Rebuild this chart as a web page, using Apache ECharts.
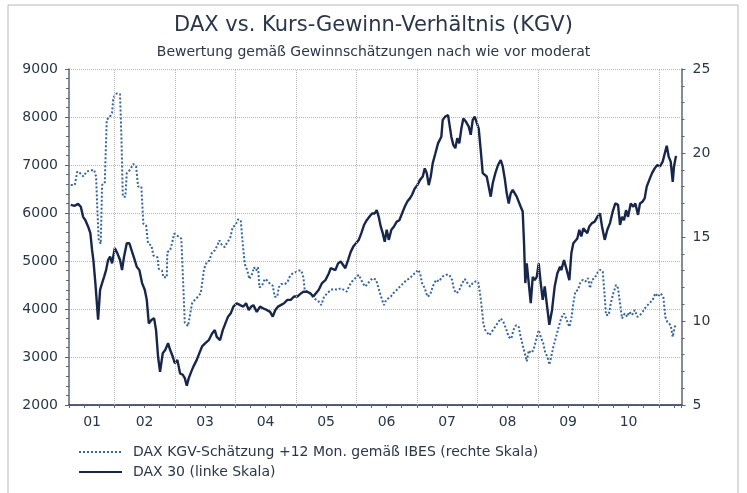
<!DOCTYPE html>
<html>
<head>
<meta charset="utf-8">
<title>DAX vs. KGV</title>
<script src="https://cdn.jsdelivr.net/npm/echarts@6/dist/echarts.min.js"></script>
<style>
  html, body { margin: 0; padding: 0; background: #fff; }
  #chart { width: 747px; height: 493px; }
</style>
</head>
<body>
<div id="chart"></div>
<script>
// DAX 30, weekly-ish readings (decimal year / index points)
const daxTime = [
  2001.279, 2001.345, 2001.400, 2001.445, 2001.483, 2001.521, 2001.565, 2001.603, 2001.631, 2001.653,
  2001.686, 2001.731, 2001.764, 2001.797, 2001.830, 2001.863, 2001.896, 2001.929, 2001.962, 2002.007,
  2002.050, 2002.094, 2002.127, 2002.160, 2002.205, 2002.248, 2002.293, 2002.337, 2002.370, 2002.413,
  2002.458, 2002.502, 2002.536, 2002.569, 2002.612, 2002.656, 2002.689, 2002.722, 2002.755, 2002.800,
  2002.843, 2002.888, 2002.921, 2002.965, 2002.998, 2003.041, 2003.086, 2003.131, 2003.164, 2003.197,
  2003.230, 2003.273, 2003.306, 2003.362, 2003.405, 2003.450, 2003.504, 2003.560, 2003.615, 2003.660,
  2003.693, 2003.747, 2003.792, 2003.835, 2003.879, 2003.924, 2003.967, 2004.023, 2004.078, 2004.132,
  2004.177, 2004.221, 2004.264, 2004.298, 2004.354, 2004.408, 2004.463, 2004.519, 2004.574, 2004.618,
  2004.661, 2004.706, 2004.750, 2004.805, 2004.860, 2004.916, 2004.970, 2005.025, 2005.069, 2005.124,
  2005.180, 2005.235, 2005.289, 2005.322, 2005.379, 2005.433, 2005.488, 2005.544, 2005.577, 2005.610,
  2005.653, 2005.698, 2005.742, 2005.775, 2005.818, 2005.863, 2005.907, 2005.950, 2005.995, 2006.040,
  2006.083, 2006.127, 2006.172, 2006.215, 2006.260, 2006.304, 2006.337, 2006.370, 2006.403, 2006.436,
  2006.469, 2006.502, 2006.536, 2006.579, 2006.623, 2006.668, 2006.711, 2006.755, 2006.800, 2006.843,
  2006.888, 2006.921, 2006.965, 2007.008, 2007.053, 2007.098, 2007.131, 2007.164, 2007.197, 2007.230,
  2007.263, 2007.306, 2007.350, 2007.405, 2007.428, 2007.471, 2007.516, 2007.549, 2007.570, 2007.603,
  2007.636, 2007.669, 2007.702, 2007.736, 2007.769, 2007.813, 2007.858, 2007.891, 2007.924, 2007.957,
  2007.990, 2008.023, 2008.056, 2008.089, 2008.122, 2008.155, 2008.188, 2008.221, 2008.255, 2008.298,
  2008.342, 2008.387, 2008.420, 2008.453, 2008.486, 2008.519, 2008.552, 2008.585, 2008.618, 2008.651,
  2008.684, 2008.717, 2008.750, 2008.772, 2008.793, 2008.817, 2008.850, 2008.883, 2008.916, 2008.949,
  2008.982, 2009.015, 2009.048, 2009.081, 2009.114, 2009.147, 2009.190, 2009.235, 2009.279, 2009.322,
  2009.367, 2009.388, 2009.433, 2009.478, 2009.521, 2009.554, 2009.587, 2009.620, 2009.653, 2009.686,
  2009.719, 2009.752, 2009.785, 2009.818, 2009.851, 2009.896, 2009.940, 2009.983, 2010.028, 2010.061,
  2010.106, 2010.149, 2010.193, 2010.238, 2010.281, 2010.326, 2010.359, 2010.392, 2010.425, 2010.458,
  2010.491, 2010.536, 2010.579, 2010.612, 2010.656, 2010.689, 2010.734, 2010.767, 2010.800, 2010.843,
  2010.888, 2010.932, 2010.975, 2011.020, 2011.064, 2011.098, 2011.131, 2011.164, 2011.197, 2011.230,
  2011.251, 2011.284
]
const daxValues = [
  6170, 6150, 6190, 6130, 5920, 5850, 5720, 5580, 5230, 5020,
  4540, 3780, 4400, 4540, 4670, 4810, 5020, 5090, 4950, 5270,
  5160, 5020, 4810, 5090, 5370, 5370, 5190, 5020, 4880, 4810,
  4540, 4400, 4190, 3700, 3770, 3810, 3560, 3010, 2690, 3080,
  3150, 3290, 3150, 3010, 2870, 2940, 2660, 2630, 2560, 2400,
  2560, 2700, 2800, 2940, 3080, 3220, 3290, 3350, 3490, 3560,
  3420, 3350, 3560, 3700, 3840, 3910, 4050, 4120, 4080, 4050,
  4120, 3980, 4050, 4080, 3940, 4050, 4010, 3980, 3940, 3840,
  3980, 4050, 4080, 4120, 4190, 4190, 4260, 4260, 4310, 4360,
  4360, 4330, 4260, 4220, 4400, 4540, 4600, 4740, 4850, 4880,
  4810, 4950, 4990, 4950, 4850, 5020, 5190, 5300, 5370, 5440,
  5580, 5750, 5850, 5920, 5990, 5990, 6060, 5920, 5720, 5580,
  5400, 5650, 5440, 5650, 5720, 5820, 5850, 5990, 6130, 6240,
  6310, 6380, 6510, 6580, 6690, 6760, 6930, 6830, 6580, 6760,
  7040, 7240, 7450, 7590, 7940, 8010, 8040, 8080, 7590, 7420,
  7350, 7560, 7450, 7760, 7970, 7900, 7800, 7630, 7940, 8010,
  8040, 7760, 7310, 6830, 6790, 6760, 6550, 6340, 6620, 6830,
  7000, 7100, 6970, 6720, 6410, 6200, 6410, 6480, 6510, 6340,
  6380, 6130, 6030, 5370, 4540, 4950, 4540, 4120, 4670, 4600,
  4670, 4950, 4540, 4190, 4470, 4120, 3670, 3980, 4470, 4740,
  4880, 4810, 5020, 4810, 4600, 5160, 5370, 5330, 5470, 5650,
  5510, 5680, 5720, 5580, 5720, 5790, 5820, 5920, 5990, 5720,
  5440, 5650, 5790, 6030, 6200, 6170, 5750, 5920, 5850, 6060,
  5920, 6200, 6130, 6200, 5960, 6200, 6240, 6310, 6550, 6690,
  6830, 6930, 7000, 6970, 7070, 7240, 7400, 7170, 7070, 6650,
  6970, 7190
]

// DAX KGV-Schätzung +12 Mon. (IBES)
const kgvTime = [
  2001.279, 2001.345, 2001.388, 2001.433, 2001.488, 2001.544, 2001.598, 2001.664, 2001.698, 2001.719,
  2001.742, 2001.775, 2001.797, 2001.841, 2001.874, 2001.917, 2001.962, 2001.983, 2002.040, 2002.094,
  2002.116, 2002.139, 2002.182, 2002.205, 2002.260, 2002.314, 2002.359, 2002.392, 2002.446, 2002.479,
  2002.524, 2002.557, 2002.612, 2002.645, 2002.711, 2002.734, 2002.788, 2002.810, 2002.866, 2002.876,
  2002.921, 2002.965, 2002.987, 2003.031, 2003.107, 2003.140, 2003.164, 2003.218, 2003.251, 2003.284,
  2003.329, 2003.383, 2003.428, 2003.461, 2003.483, 2003.527, 2003.570, 2003.615, 2003.660, 2003.702,
  2003.736, 2003.780, 2003.825, 2003.868, 2003.912, 2003.957, 2004.000, 2004.045, 2004.089, 2004.122,
  2004.155, 2004.198, 2004.231, 2004.276, 2004.309, 2004.342, 2004.375, 2004.397, 2004.441, 2004.486,
  2004.529, 2004.574, 2004.618, 2004.651, 2004.694, 2004.717, 2004.760, 2004.817, 2004.860, 2004.893,
  2004.937, 2004.992, 2005.048, 2005.091, 2005.124, 2005.147, 2005.190, 2005.235, 2005.279, 2005.322,
  2005.379, 2005.421, 2005.466, 2005.521, 2005.577, 2005.631, 2005.686, 2005.742, 2005.797, 2005.841,
  2005.884, 2005.929, 2005.983, 2006.040, 2006.073, 2006.106, 2006.149, 2006.193, 2006.238, 2006.281,
  2006.326, 2006.359, 2006.392, 2006.425, 2006.458, 2006.491, 2006.524, 2006.569, 2006.612, 2006.668,
  2006.722, 2006.777, 2006.833, 2006.888, 2006.932, 2006.975, 2007.020, 2007.053, 2007.086, 2007.131,
  2007.174, 2007.218, 2007.263, 2007.317, 2007.362, 2007.428, 2007.483, 2007.537, 2007.582, 2007.615,
  2007.660, 2007.702, 2007.750, 2007.793, 2007.836, 2007.881, 2007.924, 2007.967, 2008.012, 2008.045,
  2008.078, 2008.099, 2008.132, 2008.165, 2008.198, 2008.231, 2008.276, 2008.331, 2008.387, 2008.430,
  2008.474, 2008.519, 2008.562, 2008.595, 2008.640, 2008.684, 2008.717, 2008.750, 2008.783, 2008.817,
  2008.850, 2008.883, 2008.926, 2008.970, 2009.015, 2009.048, 2009.091, 2009.124, 2009.157, 2009.190,
  2009.223, 2009.256, 2009.301, 2009.345, 2009.388, 2009.433, 2009.478, 2009.521, 2009.554, 2009.587,
  2009.620, 2009.664, 2009.698, 2009.742, 2009.785, 2009.830, 2009.863, 2009.896, 2009.940, 2009.983,
  2010.028, 2010.073, 2010.106, 2010.127, 2010.172, 2010.205, 2010.248, 2010.293, 2010.326, 2010.359,
  2010.392, 2010.436, 2010.479, 2010.512, 2010.557, 2010.602, 2010.645, 2010.689, 2010.734, 2010.789,
  2010.843, 2010.899, 2010.942, 2010.987, 2011.031, 2011.074, 2011.107, 2011.140, 2011.197, 2011.230,
  2011.263, 2011.284
]
const kgvValues = [
  18.1, 18.1, 18.9, 18.8, 18.6, 18.9, 18.95, 19.0, 18.6, 16.6,
  14.8, 14.6, 18.1, 18.2, 22.0, 22.1, 22.4, 23.3, 23.55, 23.5,
  21.0, 17.4, 17.4, 18.8, 19.0, 19.35, 19.2, 18.0, 18.0, 15.8,
  15.7, 14.6, 14.5, 13.9, 13.8, 13.1, 13.0, 12.6, 12.6, 14.1,
  14.2, 14.8, 15.2, 15.1, 14.9, 14.8, 9.9, 9.7, 9.6, 11.05,
  11.25, 11.45, 11.65, 11.75, 13.1, 13.5, 13.6, 14.1, 14.2, 14.5,
  14.8, 14.5, 14.4, 14.7, 14.9, 15.6, 15.7, 16.05, 16.0, 14.6,
  13.4, 13.0, 12.5, 12.8, 13.2, 13.0, 13.2, 12.0, 12.1, 12.5,
  12.4, 12.2, 12.1, 11.45, 11.45, 12.0, 12.2, 12.2, 12.3, 12.6,
  12.8, 12.9, 13.0, 13.0, 12.6, 11.85, 11.75, 11.65, 11.45, 11.3,
  11.15, 10.95, 11.45, 11.65, 11.85, 11.9, 11.85, 11.95, 11.85, 11.75,
  12.1, 12.35, 12.55, 12.75, 12.85, 12.25, 12.05, 12.25, 12.45, 12.55,
  12.45, 12.05, 11.65, 11.25, 10.95, 11.25, 11.15, 11.45, 11.65, 11.85,
  12.05, 12.25, 12.45, 12.55, 12.75, 12.85, 13.05, 12.85, 12.25, 11.95,
  11.45, 11.55, 12.05, 12.45, 12.35, 12.65, 12.75, 12.75, 12.45, 11.85,
  11.65, 11.85, 12.25, 12.5, 12.25, 12.05, 12.25, 12.35, 12.35, 11.65,
  10.65, 9.85, 9.45, 9.55, 9.15, 9.25, 9.55, 9.85, 10.15, 9.95,
  9.55, 9.05, 8.95, 9.45, 9.75, 9.65, 9.05, 8.55, 8.1, 7.6,
  8.25, 8.1, 8.25, 8.85, 9.45, 9.05, 8.65, 8.1, 7.9, 7.4,
  7.9, 8.45, 9.05, 9.65, 10.2, 10.45, 10.05, 9.65, 10.15, 11.05,
  11.75, 11.85, 12.25, 12.45, 12.35, 12.55, 11.95, 12.45, 12.55, 12.85,
  13.05, 12.95, 11.45, 10.35, 10.35, 11.05, 11.65, 12.15, 11.95, 11.05,
  10.15, 10.45, 10.25, 10.55, 10.35, 10.65, 10.25, 10.35, 10.55, 10.85,
  11.05, 11.25, 11.65, 11.45, 11.65, 11.45, 10.25, 9.95, 9.75, 9.05,
  9.65, 9.75
]

const yearBounds = [2002, 2003, 2004, 2005, 2006, 2007, 2008, 2009, 2010, 2011]
const yearLabels = ['01', '02', '03', '04', '05', '06', '07', '08', '09', '10']

const chart = echarts.init(document.getElementById('chart'))
const font = '"DejaVu Sans", "Noto Sans", sans-serif'
const ink = '#2b3649'
const axisColor = '#5b6677'
const gridStyle = { type: 'dotted', color: '#b5b5b5', width: 1 }

function pairs(xs, ys) {
  return xs.map((x, i) => [x, ys[i]])
}

chart.setOption({
  animation: false,
  textStyle: { fontFamily: font },
  title: {
    text: 'DAX vs. Kurs-Gewinn-Verhältnis (KGV)',
    subtext: 'Bewertung gemäß Gewinnschätzungen nach wie vor moderat',
    left: 'center',
    top: 10,
    itemGap: 9,
    textStyle: { fontSize: 21, fontWeight: 'normal', color: ink, fontFamily: font },
    subtextStyle: { fontSize: 14, color: ink, fontFamily: font }
  },
  graphic: [{
    type: 'rect',
    shape: { x: 8, y: 5, width: 730, height: 500 },
    style: { fill: 'none', stroke: '#b8b8b8', lineWidth: 1 },
    silent: true
  }],
  legend: {
    orient: 'vertical',
    left: 73,
    top: 440,
    itemWidth: 43,
    itemHeight: 14,
    itemGap: 6,
    itemStyle: { opacity: 0 },
    data: ['DAX KGV-Schätzung +12 Mon. gemäß IBES (rechte Skala)', 'DAX 30 (linke Skala)'],
    textStyle: { fontSize: 14, color: ink, padding: [0, 0, 0, 6] }
  },
  grid: { left: 69, right: 65.5, top: 69, bottom: 88 },
  xAxis: {
    type: 'value',
    min: 2001.25,
    max: 2011.375,
    interval: 0.25,
    splitLine: { show: false },
    axisLine: { lineStyle: { color: '#1f2d4a', width: 1.5 } },
    axisTick: { length: 3, lineStyle: { color: axisColor } },
    axisLabel: {
      color: ink,
      fontSize: 14,
      margin: 10,
      formatter: function (v) {
        const y = Math.floor(v + 1e-6)
        if (Math.abs(v - y - 0.5) > 0.01) return ''
        const lbl = yearLabels[y - 2001]
        if (!lbl) return ''
        return y === 2001 ? '{first|' + lbl + '}' : lbl
      },
      rich: { first: { fontSize: 14, color: ink, padding: [0, 0, 0, 16] } }
    }
  },
  yAxis: [{
    type: 'value',
    min: 2000,
    max: 9000,
    interval: 1000,
    axisLine: { show: true, lineStyle: { color: axisColor, width: 1.5 } },
    axisTick: { show: true, length: 4, lineStyle: { color: axisColor } },
    minorTick: { show: true, splitNumber: 5, length: 3, lineStyle: { color: axisColor } },
    splitLine: { show: true, lineStyle: gridStyle },
    axisLabel: { color: ink, fontSize: 14, margin: 11, formatter: v => String(v) }
  }, {
    type: 'value',
    min: 5,
    max: 25,
    interval: 5,
    position: 'right',
    axisLine: { show: true, lineStyle: { color: axisColor, width: 1.5 } },
    axisTick: { show: true, length: 4, lineStyle: { color: axisColor } },
    minorTick: { show: true, splitNumber: 5, length: 3, lineStyle: { color: axisColor } },
    splitLine: { show: false },
    axisLabel: { color: ink, fontSize: 14, margin: 11 }
  }],
  series: [{
    // year boundary grid lines
    type: 'line',
    data: [],
    z: 1,
    silent: true,
    markLine: {
      silent: true,
      symbol: 'none',
      label: { show: false },
      lineStyle: gridStyle,
      data: yearBounds.map(y => ({ xAxis: y }))
    }
  }, {
    name: 'DAX KGV-Schätzung +12 Mon. gemäß IBES (rechte Skala)',
    type: 'line',
    yAxisIndex: 1,
    symbol: 'none',
    z: 3,
    lineStyle: { color: '#36669a', width: 2, type: 'dotted' },
    itemStyle: { color: '#36669a' },
    data: pairs(kgvTime, kgvValues)
  }, {
    name: 'DAX 30 (linke Skala)',
    type: 'line',
    yAxisIndex: 0,
    symbol: 'none',
    z: 4,
    lineStyle: { color: '#17264a', width: 2.4 },
    itemStyle: { color: '#17264a' },
    data: pairs(daxTime, daxValues)
  }]
})
</script>
</body>
</html>
